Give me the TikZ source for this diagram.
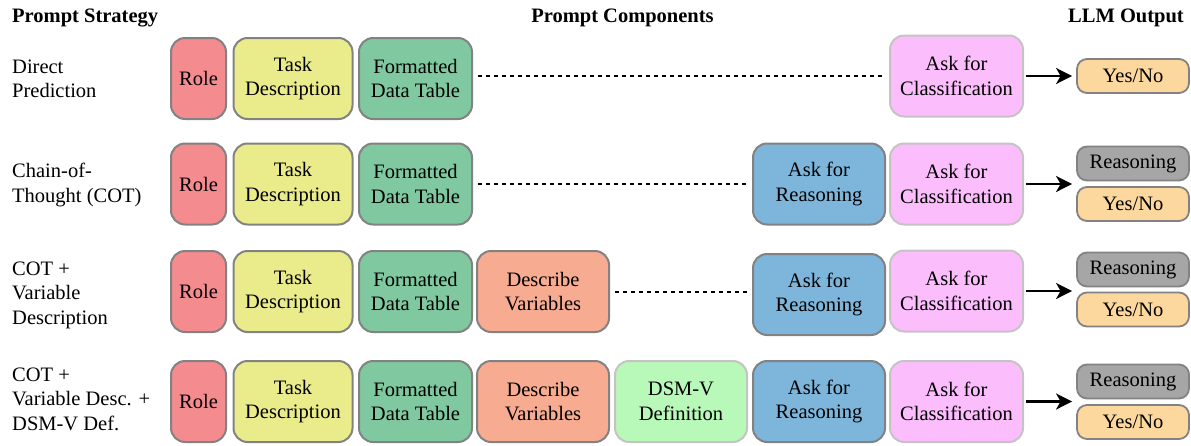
\documentclass[tikz,border=0pt]{standalone}
\usepackage{fontspec}
\setmainfont{Liberation Serif}
\usetikzlibrary{arrows.meta}

\definecolor{edgeC}{HTML}{828282}
\definecolor{lightEdgeC}{HTML}{C4C4C4}
\definecolor{roleC}{HTML}{F48B8E}
\definecolor{taskC}{HTML}{EAEC8C}
\definecolor{dataC}{HTML}{80C8A0}
\definecolor{varC}{HTML}{F7AB90}
\definecolor{dsmC}{HTML}{B8F8B8}
\definecolor{rsnC}{HTML}{7DB5DB}
\definecolor{clsC}{HTML}{FCBDFC}
\definecolor{outRsnC}{HTML}{A6A6A6}
\definecolor{yesNoC}{HTML}{FDD89E}

\tikzset{
  txt/.style={font=\rmfamily\fontsize{20.5}{24.5}\selectfont},
  head/.style={font=\rmfamily\bfseries\fontsize{20.5}{24.5}\selectfont, inner sep=0pt},
  stratText/.style={txt, align=left, anchor=west, inner sep=0pt},
  comp/.style={txt, draw=edgeC, line width=2pt, rounded corners=14pt,
    inner sep=0pt, align=center, minimum height=81pt},
  lightcomp/.style={comp, draw=lightEdgeC},
  roleBox/.style={comp, fill=roleC, minimum width=55pt},
  taskBox/.style={comp, fill=taskC, minimum width=119pt},
  dataBox/.style={comp, fill=dataC, minimum width=113pt},
  varBox/.style={comp, fill=varC, minimum width=132pt},
  dsmBox/.style={lightcomp, fill=dsmC, minimum width=132pt},
  rsnBox/.style={comp, fill=rsnC, minimum width=132pt},
  clsBox/.style={lightcomp, fill=clsC, minimum width=133pt},
  outBox/.style={txt, draw=edgeC, line width=1.8pt, rounded corners=10pt,
    inner sep=0pt, minimum width=112pt, minimum height=34pt},
  outRsn/.style={outBox, fill=outRsnC},
  outYes/.style={outBox, fill=yesNoC},
  dots/.style={line width=2.4pt, dash pattern=on 4pt off 4pt,
    shorten <=5pt, shorten >=4pt},
  arr/.style={line width=2.5pt, -{Stealth[length=16pt,width=16pt,inset=4.5pt]},
    shorten <=2pt, shorten >=4pt}
}

\begin{document}
\begin{tikzpicture}[x=1pt,y=-1pt]
\useasboundingbox (0,0) rectangle (1191,445);

% column headers
\node[head, anchor=base west] (hStrategy) at (12,22.5) {Prompt Strategy};
\node[head, anchor=base] (hComponents) at (622.5,22.5) {Prompt Components};
\node[head, anchor=base east] (hOutput) at (1184,22.5) {LLM Output};

% strategy names
\node[stratText] (s1) at (12,79) {Direct\\Prediction};
\node[stratText] (s2) at (12,185) {Chain-of-\\Thought (COT)};
\node[stratText] (s3) at (12,295) {COT +\\Variable\\Description};
\node[stratText] (s4) at (12,399) {COT +\\Variable Desc. +\\DSM-V Def.};

% row 1: direct prediction
\node[roleBox] (role1) at (198.5,78.5) {Role};
\node[taskBox] (task1) at (293,78.5) {Task\\Description};
\node[dataBox] (data1) at (415.5,78.5) {Formatted\\Data Table};
\node[clsBox] (cls1) at (956.5,76) {Ask for\\Classification};
\node[outYes] (yes1) at (1133,76) {Yes/No};
\draw[dots] (data1.east |- cls1.west) -- (cls1.west);
\draw[arr] (cls1.east) -- (yes1.west);

% row 2: chain-of-thought
\node[roleBox] (role2) at (198.5,184) {Role};
\node[taskBox] (task2) at (293,184) {Task\\Description};
\node[dataBox] (data2) at (415.5,184) {Formatted\\Data Table};
\node[rsnBox] (rsn2) at (819,184) {Ask for\\Reasoning};
\node[clsBox] (cls2) at (956.5,184) {Ask for\\Classification};
\node[outRsn] (orsn2) at (1133,163.5) {Reasoning};
\node[outYes] (yes2) at (1133,204) {Yes/No};
\draw[dots] (data2.east |- rsn2.west) -- (rsn2.west);
\draw[arr] (cls2.east) -- (cls2.east -| yes2.west);

% row 3: COT + variable description
\node[roleBox] (role3) at (198.5,291.5) {Role};
\node[taskBox] (task3) at (293,291.5) {Task\\Description};
\node[dataBox] (data3) at (415.5,291.5) {Formatted\\Data Table};
\node[varBox] (var3) at (543,291.5) {Describe\\Variables};
\node[rsnBox] (rsn3) at (819,294.5) {Ask for\\Reasoning};
\node[clsBox] (cls3) at (956.5,291) {Ask for\\Classification};
\node[outRsn] (orsn3) at (1133,269.5) {Reasoning};
\node[outYes] (yes3) at (1133,309.5) {Yes/No};
\draw[dots] (var3.east |- 0,292) -- (rsn3.west |- 0,292);
\draw[arr] (cls3.east) -- (cls3.east -| yes3.west);

% row 4: COT + variable description + DSM-V definition
\node[roleBox] (role4) at (198.5,401.5) {Role};
\node[taskBox] (task4) at (293,401.5) {Task\\Description};
\node[dataBox] (data4) at (415.5,401.5) {Formatted\\Data Table};
\node[varBox] (var4) at (543,401.5) {Describe\\Variables};
\node[dsmBox] (dsm4) at (681,401.5) {DSM-V\\Definition};
\node[rsnBox] (rsn4) at (819,401.5) {Ask for\\Reasoning};
\node[clsBox] (cls4) at (956.5,401.5) {Ask for\\Classification};
\node[outRsn] (orsn4) at (1133,381.5) {Reasoning};
\node[outYes] (yes4) at (1133,422) {Yes/No};
\draw[arr] (cls4.east) -- (cls4.east -| yes4.west);
\end{tikzpicture}
\end{document}
